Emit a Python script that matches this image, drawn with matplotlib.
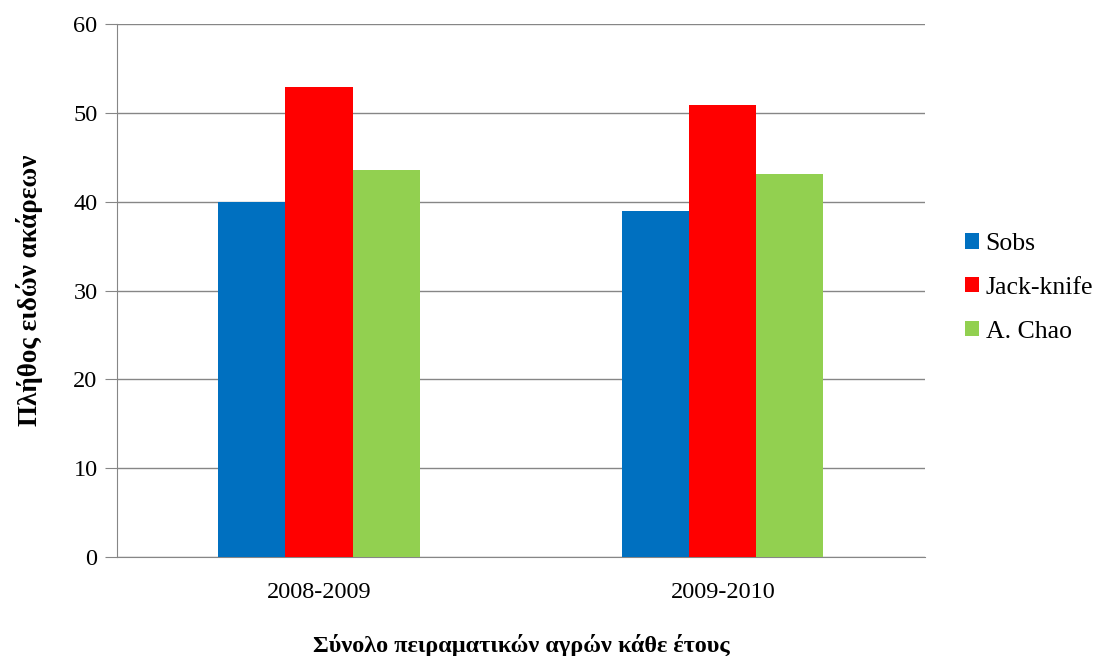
import numpy as np
import matplotlib.pyplot as plt

plt.rcParams['font.family'] = ['Liberation Serif', 'DejaVu Serif']

categories = ['2008-2009', '2009-2010']
series = ['Sobs', 'Jack-knife', 'A. Chao']
sobs = [40, 39]
jack = [52.9, 50.9]
chao = [43.6, 43.1]
colors = ['#0070C0', '#FF0000', '#92D050']

fig = plt.figure(figsize=(10.96, 6.56), dpi=100)
ax = fig.add_axes([0.1068, 0.1509, 0.737, 0.8125])

x = np.arange(len(categories))
w = 0.166
for i, (vals, name, c) in enumerate(zip([sobs, jack, chao], series, colors)):
    ax.bar(x + (i - 1) * w, vals, w, color=c, label=name, zorder=3)

ax.set_xlim(-0.5, 1.5)
ax.set_ylim(0, 60)
ax.set_yticks(range(0, 61, 10))
ax.set_xticks(x)
ax.set_xticklabels(categories)
ax.grid(axis='y', color='#868686', linewidth=1, zorder=0)
for s in ['top', 'right']:
    ax.spines[s].set_visible(False)
for s in ['left', 'bottom']:
    ax.spines[s].set_color('#868686')
ax.tick_params(axis='y', length=9, color='#868686', labelsize=17.5, pad=5)
ax.tick_params(axis='x', length=0, labelsize=17.5, pad=18)

ax.set_xlabel('Σύνολο πειραματικών αγρών κάθε έτους', fontsize=17.5, fontweight='bold', labelpad=22)
ax.set_ylabel('Πλήθος ειδών ακάρεων', fontsize=19.5, fontweight='bold', labelpad=22)

ax.legend(loc='center left', bbox_to_anchor=(1.05, 0.505), frameon=False, fontsize=18.5,
          borderaxespad=0, borderpad=0, handlelength=0.55, handleheight=0.55,
          handletextpad=0.25, labelspacing=0.85)

fig.savefig('out.png', dpi=100)
